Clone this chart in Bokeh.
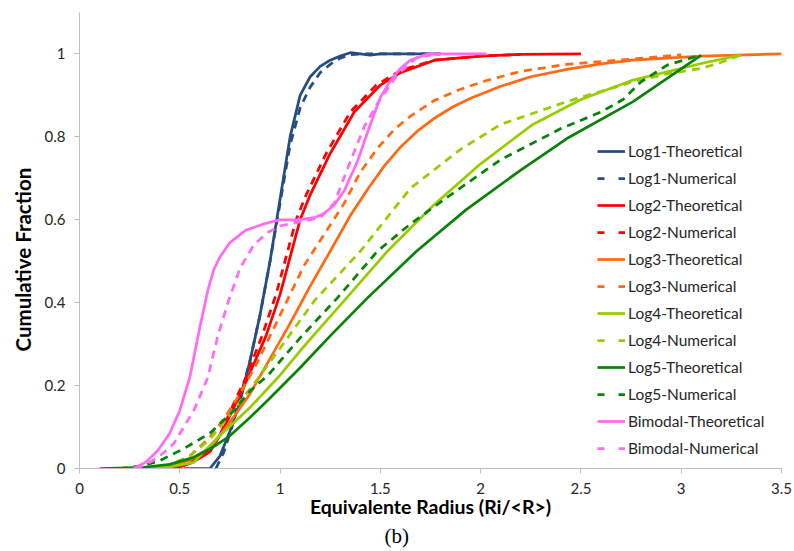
from bokeh.plotting import figure
from bokeh.models import Range1d, FixedTicker, Legend, LegendItem, Title, ColumnDataSource
from bokeh.embed import file_html
from bokeh.resources import INLINE

# ---------------- data ----------------
x_ticks = [0, 0.5, 1, 1.5, 2, 2.5, 3, 3.5]
x_tick_labels = ["0", "0.5", "1", "1.5", "2", "2.5", "3", "3.5"]
y_ticks = [0, 0.2, 0.4, 0.6, 0.8, 1.0]
y_tick_labels = ["0", "0.2", "0.4", "0.6", "0.8", "1"]

log1_t_x = [0.52, 0.65, 0.70, 0.75, 0.80, 0.85, 0.90, 0.95, 1.00, 1.05, 1.10, 1.15, 1.20, 1.25, 1.30, 1.35, 1.40, 1.45, 1.50, 1.60, 1.80]
log1_t_y = [0.0, 0.0, 0.03, 0.09, 0.16, 0.26, 0.37, 0.50, 0.65, 0.80, 0.90, 0.945, 0.97, 0.985, 0.995, 1.003, 1.0, 0.997, 1.0, 1.0, 1.0]
log1_n_x = [0.68, 0.72, 0.76, 0.80, 0.85, 0.90, 0.95, 1.00, 1.05, 1.10, 1.15, 1.20, 1.25, 1.30, 1.35, 1.40, 1.50, 1.60, 1.80]
log1_n_y = [0.0, 0.04, 0.10, 0.17, 0.26, 0.37, 0.50, 0.64, 0.78, 0.87, 0.92, 0.955, 0.975, 0.99, 0.998, 1.0, 1.0, 1.0, 1.0]

log2_t_x = [0.40, 0.50, 0.55, 0.60, 0.65, 0.70, 0.77, 0.84, 0.93, 1.00, 1.05, 1.10, 1.15, 1.25, 1.37, 1.50, 1.60, 1.77, 2.00, 2.20, 2.50]
log2_t_y = [0.0, 0.004, 0.012, 0.025, 0.04, 0.08, 0.147, 0.22, 0.32, 0.42, 0.51, 0.60, 0.66, 0.76, 0.86, 0.925, 0.955, 0.985, 0.995, 0.999, 1.0]
log2_n_x = [0.42, 0.50, 0.55, 0.60, 0.65, 0.70, 0.76, 0.83, 0.91, 0.98, 1.03, 1.08, 1.13, 1.23, 1.35, 1.48, 1.60, 1.77, 2.00, 2.20]
log2_n_y = [0.0, 0.005, 0.014, 0.028, 0.045, 0.08, 0.147, 0.22, 0.32, 0.42, 0.51, 0.60, 0.66, 0.76, 0.86, 0.925, 0.96, 0.985, 0.995, 0.999]

log3_t_x = [0.35, 0.45, 0.55, 0.65, 0.74, 0.85, 0.95, 1.05, 1.15, 1.25, 1.35, 1.44, 1.52, 1.60, 1.68, 1.77, 1.86, 1.95, 2.10, 2.25, 2.43, 2.60, 2.76, 3.10, 3.50]
log3_t_y = [0.0, 0.005, 0.02, 0.05, 0.105, 0.18, 0.265, 0.35, 0.44, 0.524, 0.61, 0.676, 0.73, 0.775, 0.812, 0.845, 0.872, 0.893, 0.922, 0.945, 0.963, 0.976, 0.985, 0.995, 1.0]
log3_n_x = [0.35, 0.45, 0.55, 0.65, 0.72, 0.80, 0.88, 0.96, 1.04, 1.12, 1.22, 1.32, 1.40, 1.49, 1.57, 1.65, 1.77, 1.90, 2.03, 2.20, 2.43, 2.76, 3.00]
log3_n_y = [0.0, 0.008, 0.03, 0.075, 0.12, 0.18, 0.25, 0.33, 0.41, 0.49, 0.565, 0.64, 0.715, 0.775, 0.818, 0.85, 0.888, 0.915, 0.936, 0.958, 0.975, 0.988, 0.998]

log4_t_x = [0.35, 0.45, 0.57, 0.69, 0.85, 1.00, 1.10, 1.19, 1.32, 1.535, 1.765, 2.00, 2.26, 2.50, 2.76, 3.10, 3.30]
log4_t_y = [0.0, 0.004, 0.015, 0.075, 0.147, 0.225, 0.284, 0.334, 0.405, 0.524, 0.635, 0.735, 0.83, 0.89, 0.937, 0.977, 0.998]
log4_n_x = [0.35, 0.45, 0.55, 0.65, 0.75, 0.87, 1.00, 1.17, 1.40, 1.65, 1.90, 2.10, 2.43, 2.76, 2.93, 3.10, 3.20, 3.30]
log4_n_y = [0.0, 0.008, 0.03, 0.07, 0.13, 0.204, 0.29, 0.404, 0.524, 0.676, 0.77, 0.83, 0.885, 0.933, 0.952, 0.965, 0.98, 0.998]

log5_t_x = [0.10, 0.20, 0.32, 0.45, 0.57, 0.66, 0.74, 0.85, 0.94, 1.10, 1.25, 1.435, 1.68, 1.93, 2.20, 2.43, 2.76, 3.10]
log5_t_y = [0.0, 0.001, 0.003, 0.01, 0.027, 0.05, 0.075, 0.123, 0.165, 0.243, 0.32, 0.411, 0.524, 0.625, 0.72, 0.796, 0.885, 0.997]
log5_n_x = [0.20, 0.32, 0.40, 0.52, 0.65, 0.77, 0.85, 0.94, 1.10, 1.285, 1.485, 1.65, 1.85, 2.10, 2.40, 2.60, 2.71, 2.80, 2.93, 3.10]
log5_n_y = [0.0, 0.007, 0.019, 0.048, 0.085, 0.14, 0.187, 0.225, 0.315, 0.411, 0.524, 0.59, 0.66, 0.745, 0.82, 0.86, 0.89, 0.933, 0.973, 0.998]

bim_t_x = [0.27, 0.33, 0.39, 0.45, 0.50, 0.55, 0.60, 0.64, 0.67, 0.70, 0.75, 0.83, 0.92, 1.00, 1.09, 1.17, 1.22, 1.27, 1.32, 1.385, 1.45, 1.50, 1.55, 1.60, 1.65, 1.735, 2.03]
bim_t_y = [0.0, 0.015, 0.043, 0.085, 0.14, 0.22, 0.34, 0.43, 0.48, 0.51, 0.545, 0.575, 0.59, 0.60, 0.60, 0.605, 0.615, 0.636, 0.67, 0.74, 0.83, 0.895, 0.935, 0.965, 0.985, 1.0, 1.0]
bim_n_x = [0.28, 0.34, 0.40, 0.47, 0.52, 0.57, 0.64, 0.69, 0.74, 0.80, 0.87, 0.94, 1.00, 1.10, 1.20, 1.27, 1.35, 1.42, 1.485, 1.585, 1.685, 1.80]
bim_n_y = [0.0, 0.012, 0.03, 0.06, 0.10, 0.14, 0.22, 0.32, 0.40, 0.483, 0.54, 0.57, 0.585, 0.595, 0.605, 0.64, 0.74, 0.825, 0.88, 0.95, 0.993, 1.0]

series = [
    ("Log1-Theoretical", log1_t_x, log1_t_y, "#264D80", False),
    ("Log1-Numerical", log1_n_x, log1_n_y, "#264D80", True),
    ("Log2-Theoretical", log2_t_x, log2_t_y, "#FF0000", False),
    ("Log2-Numerical", log2_n_x, log2_n_y, "#FF0000", True),
    ("Log3-Theoretical", log3_t_x, log3_t_y, "#FF6A13", False),
    ("Log3-Numerical", log3_n_x, log3_n_y, "#FF6A13", True),
    ("Log4-Theoretical", log4_t_x, log4_t_y, "#99CC00", False),
    ("Log4-Numerical", log4_n_x, log4_n_y, "#99CC00", True),
    ("Log5-Theoretical", log5_t_x, log5_t_y, "#0A820A", False),
    ("Log5-Numerical", log5_n_x, log5_n_y, "#0A820A", True),
    ("Bimodal-Theoretical", bim_t_x, bim_t_y, "#FF6BF3", False),
    ("Bimodal-Numerical", bim_n_x, bim_n_y, "#FF6BF3", True),
]

FONT = "Lato"
TXT = "#262626"
AX = "#BFBFBF"

p = figure(width=794, height=551, output_backend="svg", toolbar_location=None,
           x_range=Range1d(0, 3.5), y_range=Range1d(0, 1.1),
           min_border_left=79, min_border_right=13, min_border_top=12, min_border_bottom=82)
p.outline_line_color = None
p.xgrid.visible = False
p.ygrid.visible = False
p.background_fill_color = "white"

p.xaxis.ticker = FixedTicker(ticks=x_ticks)
p.yaxis.ticker = FixedTicker(ticks=y_ticks)
p.xaxis.major_label_overrides = {t: l for t, l in zip(x_ticks, x_tick_labels)}
p.yaxis.major_label_overrides = {t: l for t, l in zip(y_ticks, y_tick_labels)}

for ax in (p.xaxis, p.yaxis):
    ax.axis_line_color = AX
    ax.major_tick_line_color = AX
    ax.minor_tick_line_color = None
    ax.major_tick_in = 0
    ax.major_tick_out = 5
    ax.major_label_standoff = 9
    ax.major_label_text_font = FONT
    ax.major_label_text_font_size = "15px"
    ax.major_label_text_color = TXT

p.xaxis.axis_label = "Equivalente Radius (Ri/<R>)"
p.xaxis.axis_label_text_font = FONT
p.xaxis.axis_label_text_font_size = "19.5px"
p.xaxis.axis_label_text_font_style = "bold"
p.xaxis.axis_label_text_color = "#000000"
p.xaxis.axis_label_standoff = -2

# y axis title as a side title (reference centres it slightly below the frame centre)
p.add_layout(Title(text="Cumulative Fraction", align="left", vertical_align="middle",
                   offset=117, standoff=11, text_font=FONT, text_font_size="20.5px",
                   text_font_style="bold", text_color="#000000"), "left")

# panel caption below the axis title
p.add_layout(Title(text="(b)", align="left", vertical_align="middle", offset=305,
                   standoff=5, text_font="Liberation Serif", text_font_size="21px",
                   text_font_style="normal", text_color="#000000"), "below")

items = []
for name, xs, ys, color, dashed in series:
    src = ColumnDataSource(dict(x=xs, y=ys))
    r = p.line("x", "y", source=src, line_color=color, line_width=2.75,
               line_dash="8 6" if dashed else "solid", line_join="round")
    if dashed:
        # legend-only renderer (single point draws nothing) with Excel-like legend dash
        rl = p.line(x=xs[:1], y=ys[:1], line_color=color, line_width=2.75, line_dash="7 14")
        items.append(LegendItem(label=name, renderers=[rl]))
    else:
        items.append(LegendItem(label=name, renderers=[r]))

legend = Legend(items=items, location=(518, 10), border_line_color=None,
                background_fill_alpha=0, padding=0, margin=0, spacing=7,
                glyph_width=28, glyph_height=20, label_height=20, label_standoff=3,
                label_text_font=FONT, label_text_font_size="15.5px", label_text_color=TXT)
p.add_layout(legend)

open("out.html", "w").write(file_html(p, INLINE))
